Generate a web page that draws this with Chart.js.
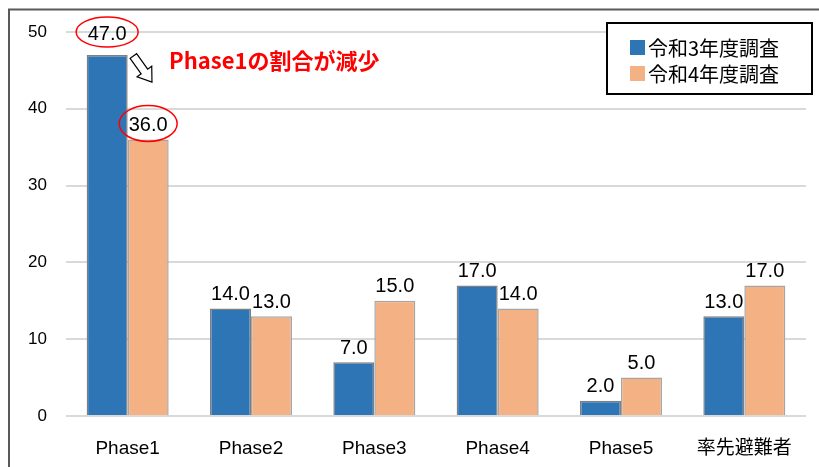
<!DOCTYPE html>
<html>
<head>
<meta charset="utf-8">
<script src="https://cdn.jsdelivr.net/npm/chart.js@4/dist/chart.umd.min.js"></script>
<style>
  html, body { margin: 0; padding: 0; background: #fff; }
  #wrap { width: 819px; height: 467px; position: relative; }
</style>
</head>
<body>
<div id="wrap"><canvas id="c"></canvas></div>
<script>
// ─── Data ────────────────────────────────────────────────────────────────────
const categories = ['Phase1', 'Phase2', 'Phase3', 'Phase4', 'Phase5', '率先避難者'];
const seriesNames = ['令和3年度調査', '令和4年度調査'];
const valuesR3 = [47.0, 14.0, 7.0, 17.0, 2.0, 13.0];
const valuesR4 = [36.0, 13.0, 15.0, 14.0, 5.0, 17.0];
const seriesColors = ['#2e75b6', '#f4b183'];
const yTicks = [0, 10, 20, 30, 40, 50];
const noteText = 'Phase1の割合が減少';

const NUM_FONT = '"Liberation Sans", Arial, sans-serif';
const JP_FONT = '"Noto Sans CJK JP", sans-serif';

// ─── Custom plugin: frame, value labels, annotation, legend ──────────────────
const decorations = {
  id: 'decorations',
  afterDatasetsDraw(chart) {
    const { ctx } = chart;
    ctx.save();

    // outer frame (top + left edges visible)
    ctx.strokeStyle = '#595959';
    ctx.lineWidth = 2;
    ctx.beginPath();
    ctx.moveTo(9, 480); ctx.lineTo(9, 9.5); ctx.lineTo(830, 9.5);
    ctx.stroke();

    // value labels
    const labelPos = [];
    chart.data.datasets.forEach((ds, di) => {
      const meta = chart.getDatasetMeta(di);
      labelPos[di] = [];
      meta.data.forEach((bar, i) => {
        let y = bar.y - 4;
        if (di === 0 && i === 0) y = chart.scales.y.getPixelForValue(50) + 12;
        ctx.font = '20px ' + NUM_FONT;
        ctx.fillStyle = '#000';
        ctx.textAlign = 'center';
        ctx.textBaseline = 'bottom';
        ctx.fillText(ds.data[i].toFixed(1), bar.x, y);
        labelPos[di][i] = { x: bar.x, y: y - 11 };
      });
    });

    // red ellipses around the Phase1 labels
    ctx.strokeStyle = '#ff0000';
    ctx.lineWidth = 1.5;
    [[0, 31, 15], [1, 29, 18]].forEach(([di, rx, ry]) => {
      const p = labelPos[di][0];
      ctx.beginPath();
      ctx.ellipse(p.x, p.y - 1, rx, ry, 0, 0, Math.PI * 2);
      ctx.stroke();
    });

    // outline arrow pointing down-right
    const b0 = chart.getDatasetMeta(0).data[0];
    const ax = b0.x + b0.width / 2 + 15, ay = b0.y + 14;
    ctx.save();
    ctx.translate(ax, ay);
    ctx.rotate(0.95);
    ctx.beginPath();
    ctx.moveTo(-16, -4); ctx.lineTo(3, -4); ctx.lineTo(3, -9);
    ctx.lineTo(16, 0);
    ctx.lineTo(3, 9); ctx.lineTo(3, 4); ctx.lineTo(-16, 4);
    ctx.closePath();
    ctx.fillStyle = '#fff';
    ctx.fill();
    ctx.strokeStyle = '#000';
    ctx.lineWidth = 1.2;
    ctx.stroke();
    ctx.restore();

    // red annotation
    ctx.font = 'bold 22px ' + JP_FONT;
    ctx.fillStyle = '#ff0000';
    ctx.textAlign = 'left';
    ctx.textBaseline = 'middle';
    ctx.fillText(noteText, 169, 61);

    // legend box
    ctx.fillStyle = '#fff';
    ctx.fillRect(607, 23, 205, 71);
    ctx.strokeStyle = '#000';
    ctx.lineWidth = 2;
    ctx.strokeRect(607, 23, 205, 71);
    seriesNames.forEach((name, i) => {
      const y = 47 + i * 26;
      ctx.fillStyle = seriesColors[i];
      ctx.fillRect(630, y - 7, 15, 15);
      ctx.fillStyle = '#000';
      ctx.font = '20px ' + JP_FONT;
      ctx.textBaseline = 'middle';
      ctx.fillText(name, 648, y + 1);
    });

    ctx.restore();
  }
};

new Chart(document.getElementById('c'), {
  type: 'bar',
  data: {
    labels: categories,
    datasets: [
      { label: seriesNames[0], data: valuesR3, backgroundColor: seriesColors[0],
        borderColor: '#7f7f7f', borderWidth: 1.5 },
      { label: seriesNames[1], data: valuesR4, backgroundColor: seriesColors[1],
        borderColor: '#a6a6a6', borderWidth: 1.5 }
    ]
  },
  options: {
    responsive: true, maintainAspectRatio: false, animation: false,
    categoryPercentage: 0.665, barPercentage: 1,
    layout: { padding: { left: 0, right: 13, top: 32, bottom: 0 } },
    plugins: { legend: { display: false }, tooltip: { enabled: false } },
    scales: {
      x: {
        grid: { display: false }, border: { display: false },
        ticks: { color: '#000', padding: 13, font: { family: NUM_FONT + ', ' + JP_FONT, size: 19 } },
        afterFit(axis) { axis.height = 51; }
      },
      y: {
        min: 0, max: 50,
        afterBuildTicks(axis) { axis.ticks = yTicks.map(v => ({ value: v })); },
        grid: { color: '#d9d9d9', lineWidth: 2, drawTicks: false },
        border: { display: false },
        ticks: { color: '#000', padding: 19, font: { family: NUM_FONT, size: 17 } },
        afterFit(axis) { axis.width = 66; }
      }
    }
  },
  plugins: [decorations]
});
</script>
</body>
</html>
